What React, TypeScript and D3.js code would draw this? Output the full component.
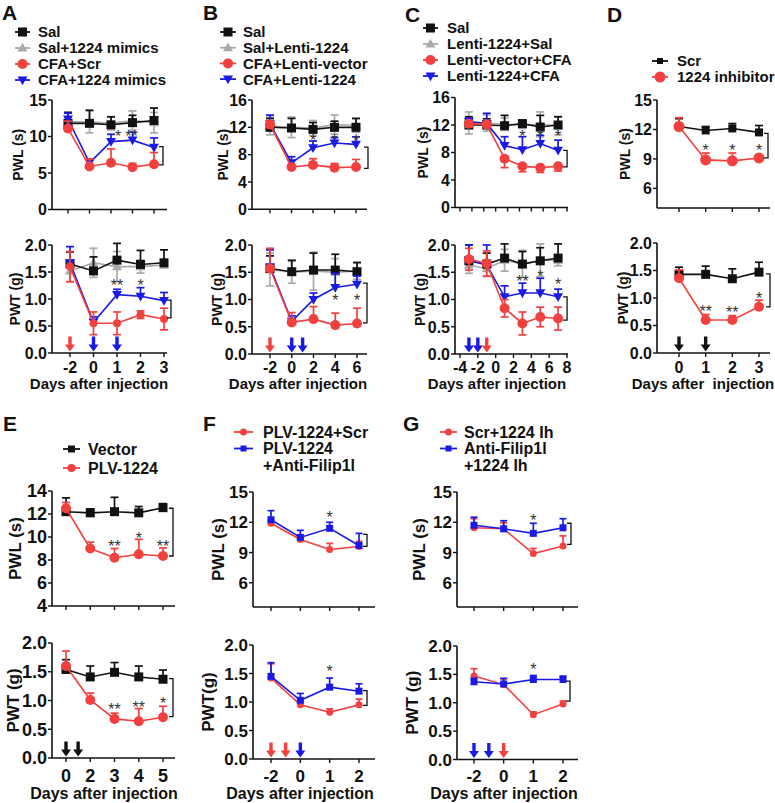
import React from 'react';
import * as d3 from 'd3';

const RED = '#f2403f';
const BLUE = '#1a1ae6';
const GRAY = '#a9a9a9';
const BLACK = '#111111';
const STAR = '#333333';
const FONT = "'Liberation Sans', Arial, Helvetica, sans-serif";

// ---------- Panel A ----------
const A_DAYS = [-2, 0, 1, 2, 3];
const A_PWL_SAL = [11.8, 11.8, 11.6, 11.9, 12.2];
const A_PWL_SAL_E = [1.5, 1.8, 1.1, 1.0, 1.7];
const A_PWL_MIM = [12.0, 12.0, 11.8, 12.2, 11.9];
const A_PWL_MIM_E = [1.3, 1.5, 0.9, 1.3, 1.4];
const A_PWL_SCR = [11.1, 5.9, 6.4, 5.8, 6.2];
const A_PWL_SCR_E = [1.0, 1.0, 1.9, 0.5, 1.6];
const A_PWL_CM = [12.4, 6.4, 9.3, 9.5, 8.5];
const A_PWL_CM_E = [0.8, 0.5, 1.0, 1.1, 1.3];
const A_PWT_SAL = [1.65, 1.52, 1.72, 1.64, 1.67];
const A_PWT_SAL_E = [0.22, 0.26, 0.31, 0.26, 0.24];
const A_PWT_MIM = [1.52, 1.67, 1.6, 1.6, 1.63];
const A_PWT_MIM_E = [0.2, 0.27, 0.28, 0.12, 0.05];
const A_PWT_SCR = [1.6, 0.55, 0.55, 0.71, 0.63];
const A_PWT_SCR_E = [0.28, 0.21, 0.21, 0.07, 0.2];
const A_PWT_CM = [1.67, 0.57, 1.08, 1.05, 0.97];
const A_PWT_CM_E = [0.3, 0.1, 0.1, 0.16, 0.15];
const A_LEGEND = ['Sal', 'Sal+1224 mimics', 'CFA+Scr', 'CFA+1224 mimics'];

// ---------- Panel B ----------
const B_DAYS = [-2, 0, 2, 4, 6];
const B_PWL_SAL = [12.0, 11.9, 11.7, 12.0, 12.0];
const B_PWL_SAL_E = [1.3, 1.4, 1.0, 0.9, 1.3];
const B_PWL_L = [12.2, 12.0, 11.9, 12.4, 12.3];
const B_PWL_L_E = [1.3, 1.5, 1.1, 1.4, 1.0];
const B_PWL_VEC = [12.4, 6.2, 6.5, 6.1, 6.2];
const B_PWL_VEC_E = [0.6, 0.3, 0.9, 0.6, 1.1];
const B_PWL_CL = [12.5, 6.8, 9.0, 9.7, 9.5];
const B_PWL_CL_E = [1.3, 0.9, 1.0, 0.8, 1.1];
const B_PWT_SAL = [1.57, 1.51, 1.54, 1.54, 1.51];
const B_PWT_SAL_E = [0.23, 0.21, 0.31, 0.29, 0.17];
const B_PWT_L = [1.55, 1.5, 1.52, 1.5, 1.52];
const B_PWT_L_E = [0.3, 0.2, 0.35, 0.25, 0.15];
const B_PWT_VEC = [1.57, 0.58, 0.64, 0.53, 0.56];
const B_PWT_VEC_E = [0.37, 0.18, 0.23, 0.22, 0.28];
const B_PWT_CL = [1.6, 0.6, 1.0, 1.22, 1.28];
const B_PWT_CL_E = [0.31, 0.1, 0.12, 0.26, 0.15];
const B_LEGEND = ['Sal', 'Sal+Lenti-1224', 'CFA+Lenti-vector', 'CFA+Lenti-1224'];

// ---------- Panel C ----------
const C_TICKS = [-4, -2, 0, 2, 4, 6, 8];
const C_DAYS = [-3, -1, 1, 3, 5, 7];
const C_PWL_SAL = [12.0, 12.0, 11.9, 12.2, 11.7, 12.0];
const C_PWL_SAL_E = [1.2, 0.9, 1.5, 0.5, 1.7, 1.2];
const C_PWL_LS = [12.3, 12.3, 12.1, 12.0, 12.1, 11.9];
const C_PWL_LS_E = [1.6, 1.2, 0.9, 0.5, 1.8, 1.3];
const C_PWL_VC = [12.2, 12.1, 7.1, 6.0, 5.8, 6.0];
const C_PWL_VC_E = [0.5, 0.5, 1.3, 0.8, 0.7, 0.7];
const C_PWL_LC = [12.5, 12.2, 9.0, 8.4, 9.3, 8.3];
const C_PWL_LC_E = [0.5, 1.5, 1.3, 1.9, 1.2, 1.5];
const C_PWT_SAL = [1.71, 1.65, 1.76, 1.65, 1.71, 1.76];
const C_PWT_SAL_E = [0.29, 0.2, 0.26, 0.23, 0.24, 0.26];
const C_PWT_LS = [1.63, 1.57, 1.72, 1.65, 1.72, 1.72];
const C_PWT_LS_E = [0.15, 0.15, 0.2, 0.25, 0.3, 0.1];
const C_PWT_VC = [1.74, 1.66, 0.84, 0.56, 0.68, 0.65];
const C_PWT_VC_E = [0.2, 0.23, 0.16, 0.21, 0.18, 0.21];
const C_PWT_LC = [1.72, 1.63, 1.05, 1.12, 1.12, 1.05];
const C_PWT_LC_E = [0.28, 0.37, 0.2, 0.18, 0.27, 0.14];
const C_LEGEND = ['Sal', 'Lenti-1224+Sal', 'Lenti-vector+CFA', 'Lenti-1224+CFA'];

// ---------- Panel D ----------
const D_DAYS = [0, 1, 2, 3];
const D_PWL_SCR = [12.3, 11.9, 12.1, 11.7];
const D_PWL_SCR_E = [0.8, 0.4, 0.5, 0.7];
const D_PWL_INH = [12.3, 8.9, 8.8, 9.1];
const D_PWL_INH_E = [0.9, 0.7, 0.8, 0.3];
const D_PWT_SCR = [1.43, 1.43, 1.35, 1.47];
const D_PWT_SCR_E = [0.13, 0.15, 0.18, 0.18];
const D_PWT_INH = [1.36, 0.6, 0.6, 0.84];
const D_PWT_INH_E = [0.15, 0.1, 0.08, 0.12];
const D_LEGEND = ['Scr', '1224 inhibitor'];

// ---------- Panel E ----------
const E_DAYS = [0, 2, 3, 4, 5];
const E_PWL_VEC = [12.2, 12.1, 12.2, 12.1, 12.55];
const E_PWL_VEC_E = [1.2, 0.35, 1.25, 0.55, 0.35];
const E_PWL_PLV = [12.5, 9.0, 8.2, 8.5, 8.35];
const E_PWL_PLV_E = [0.5, 0.55, 0.8, 1.3, 0.7];
const E_PWT_VEC = [1.54, 1.41, 1.49, 1.41, 1.37];
const E_PWT_VEC_E = [0.17, 0.19, 0.17, 0.19, 0.16];
const E_PWT_PLV = [1.6, 1.01, 0.68, 0.64, 0.71];
const E_PWT_PLV_E = [0.26, 0.12, 0.1, 0.22, 0.19];
const E_LEGEND = ['Vector', 'PLV-1224'];

// ---------- Panel F ----------
const F_DAYS = [-2, 0, 1, 2];
const F_PWL_SCR = [11.9, 10.3, 9.3, 9.6];
const F_PWL_SCR_E = [0.3, 0.3, 0.6, 0.5];
const F_PWL_ANTI = [12.25, 10.5, 11.4, 9.7];
const F_PWL_ANTI_E = [0.9, 0.7, 0.6, 1.2];
const F_PWT_SCR = [1.42, 0.95, 0.82, 0.95];
const F_PWT_SCR_E = [0.25, 0.05, 0.06, 0.1];
const F_PWT_ANTI = [1.45, 1.03, 1.26, 1.19];
const F_PWT_ANTI_E = [0.24, 0.12, 0.16, 0.13];
const F_LEGEND = [['PLV-1224+Scr'], ['PLV-1224', '+Anti-Filip1l']];

// ---------- Panel G ----------
const G_DAYS = [-2, 0, 1, 2];
const G_PWL_SCR = [11.45, 11.35, 8.9, 9.65];
const G_PWL_SCR_E = [0.9, 0.6, 0.5, 1.0];
const G_PWL_ANTI = [11.7, 11.35, 10.9, 11.45];
const G_PWL_ANTI_E = [0.8, 0.8, 1.0, 0.9];
const G_PWT_SCR = [1.47, 1.32, 0.79, 0.98];
const G_PWT_SCR_E = [0.13, 0.1, 0.05, 0.05];
const G_PWT_ANTI = [1.37, 1.33, 1.41, 1.41];
const G_PWT_ANTI_E = [0.06, 0.1, 0.07, 0.06];
const G_LEGEND = [['Scr+1224 Ih'], ['Anti-Filip1l', '+1224 Ih']];

const PWL_TICKS_15 = [0, 5, 10, 15];
const PWL_TICKS_16 = [0, 4, 8, 12, 16];
const PWL_TICKS_D = [6, 9, 12, 15];
const PWL_TICKS_E = [4, 6, 8, 10, 12, 14];
const PWT_TICKS = [0, 0.5, 1, 1.5, 2];
const X_TITLE = 'Days after injection';
const X_TITLE_D = 'Days after  injection';

type Shape = 'square' | 'triUp' | 'circle' | 'triDown';
type Dir = 'up' | 'down' | 'both';
interface SeriesDef { v: number[]; e: number[]; color: string; shape: Shape; size: number; dir: Dir; }
interface Star { day: number; val: number; text: string; dx?: number; }
interface Arrow { day: number; color: string; }
interface PlotDef {
  left: number; right: number; p0: number; p1: number; ticksX: number[]; days: number[];
  axisTickCount?: number;
  yBottom: number; yTop: number; yDomain: [number, number]; yTicks: number[]; yFmt: (v: number) => string;
  series: SeriesDef[]; stars: Star[]; bracket: [number, number]; bracketDx: number;
  arrows?: Arrow[]; tickFont: number; yLabel: string; yLabelX: number; labelFont: number;
  xLabels?: boolean; xLabelY?: number; xTitle?: string; xTitleX?: number; xTitleY?: number; titleFont?: number;
  capW: number; starFont: number;
}

const fmtInt = (v: number) => String(v);
const fmt1 = d3.format('.1f');

function Marker({ shape, size, color, x, y }: { shape: Shape; size: number; color: string; x: number; y: number }) {
  const h = size / 2;
  if (shape === 'circle') return <circle cx={x} cy={y} r={h} fill={color} />;
  if (shape === 'square') return <rect x={x - h} y={y - h} width={size} height={size} fill={color} />;
  const p = d3.path();
  if (shape === 'triUp') {
    p.moveTo(x, y - h * 1.15); p.lineTo(x + h * 1.1, y + h * 0.8); p.lineTo(x - h * 1.1, y + h * 0.8);
  } else {
    p.moveTo(x, y + h * 1.15); p.lineTo(x + h * 1.1, y - h * 0.8); p.lineTo(x - h * 1.1, y - h * 0.8);
  }
  p.closePath();
  return <path d={p.toString()} fill={color} />;
}

function arrowPath(x: number, tip: number) {
  const L = 15, hh = 7, hw = 10, sw = 3.4;
  const p = d3.path();
  p.moveTo(x - sw / 2, tip - L); p.lineTo(x + sw / 2, tip - L); p.lineTo(x + sw / 2, tip - hh);
  p.lineTo(x + hw / 2, tip - hh); p.lineTo(x, tip); p.lineTo(x - hw / 2, tip - hh);
  p.lineTo(x - sw / 2, tip - hh); p.closePath();
  return p.toString();
}

function Plot({ p }: { p: PlotDef }) {
  const n = p.ticksX.length;
  const x = d3.scaleLinear().domain(p.ticksX).range(p.ticksX.map((_, i) => p.p0 + (i * (p.p1 - p.p0)) / (n - 1)));
  const y = d3.scaleLinear().domain(p.yDomain).range([p.yBottom, p.yTop]);
  const line = d3.line<number>().x((_, i) => x(p.days[i])).y((v) => y(v));
  const tickPx = p.axisTickCount
    ? d3.range(p.axisTickCount).map((i) => p.p0 + (i * (p.p1 - p.p0)) / (p.axisTickCount! - 1))
    : p.ticksX.map((t) => x(t));
  const bx = x(p.days[p.days.length - 1]) + p.bracketDx;
  const yMid = (y(p.yDomain[0]) + y(p.yDomain[1])) / 2;
  return (
    <g fontFamily={FONT}>
      <line x1={p.left} x2={p.left} y1={y(p.yDomain[1])} y2={p.yBottom} stroke={BLACK} strokeWidth={1.6} />
      <line x1={p.left} x2={p.right} y1={p.yBottom} y2={p.yBottom} stroke={BLACK} strokeWidth={1.6} />
      {p.yTicks.map((t) => (
        <g key={'yt' + t}>
          <line x1={p.left - 4} x2={p.left} y1={y(t)} y2={y(t)} stroke={BLACK} strokeWidth={1.4} />
          <text x={p.left - 5} y={y(t)} dy="0.36em" textAnchor="end" fontSize={p.tickFont} fontWeight="bold" fill={BLACK}>
            {p.yFmt(t)}
          </text>
        </g>
      ))}
      {tickPx.map((px, i) => (
        <line key={'xt' + i} x1={px} x2={px} y1={p.yBottom} y2={p.yBottom + 4} stroke={BLACK} strokeWidth={1.4} />
      ))}
      {p.xLabels &&
        p.ticksX.map((t) => (
          <text key={'xl' + t} x={x(t)} y={p.xLabelY} textAnchor="middle" fontSize={p.tickFont} fontWeight="bold" fill={BLACK}>
            {t}
          </text>
        ))}
      {p.xTitle && (
        <text x={p.xTitleX} y={p.xTitleY} textAnchor="middle" fontSize={p.titleFont} fontWeight="bold" fill={BLACK} style={{ whiteSpace: 'pre' }}>
          {p.xTitle}
        </text>
      )}
      <text
        transform={`translate(${p.yLabelX},${yMid}) rotate(-90)`}
        dy="0.35em"
        textAnchor="middle"
        fontSize={p.labelFont}
        fontWeight="bold"
        fill={BLACK}
      >
        {p.yLabel}
      </text>
      {p.series.map((s, si) => (
        <g key={'s' + si}>
          <path d={line(s.v) || ''} fill="none" stroke={s.color} strokeWidth={1.6} />
          {s.v.map((v, i) => {
            const cx = x(p.days[i]);
            const hi = s.dir === 'down' ? v : v + s.e[i];
            const lo = s.dir === 'up' ? v : v - s.e[i];
            return (
              <g key={i}>
                <line x1={cx} x2={cx} y1={y(hi)} y2={y(lo)} stroke={s.color} strokeWidth={1.7} />
                {s.dir !== 'down' && (
                  <line x1={cx - p.capW / 2} x2={cx + p.capW / 2} y1={y(hi)} y2={y(hi)} stroke={s.color} strokeWidth={1.7} />
                )}
                {s.dir !== 'up' && (
                  <line x1={cx - p.capW / 2} x2={cx + p.capW / 2} y1={y(lo)} y2={y(lo)} stroke={s.color} strokeWidth={1.7} />
                )}
              </g>
            );
          })}
          {s.v.map((v, i) => (
            <Marker key={'m' + i} shape={s.shape} size={s.size} color={s.color} x={x(p.days[i])} y={y(v)} />
          ))}
        </g>
      ))}
      {p.stars.map((st, i) => (
        <text key={'st' + i} x={x(st.day) + (st.dx || 0)} y={y(st.val) + p.starFont * 0.55} textAnchor="middle" fontSize={p.starFont} fill={STAR}>
          {st.text}
        </text>
      ))}
      <path
        d={`M${bx - 4},${y(p.bracket[0])}H${bx}V${y(p.bracket[1])}H${bx - 4}`}
        fill="none"
        stroke={BLACK}
        strokeWidth={1.3}
      />
      {(p.arrows || []).map((a, i) => (
        <path key={'ar' + i} d={arrowPath(x(a.day), p.yBottom - 1.5)} fill={a.color} />
      ))}
    </g>
  );
}

interface LegendItem { label: string[]; color: string; shape: Shape; size: number; }
function Legend({ items, x0, x1, tx, y0, step, fs }: { items: LegendItem[]; x0: number; x1: number; tx: number; y0: number; step: number; fs: number }) {
  let row = 0;
  return (
    <g fontFamily={FONT}>
      {items.map((it, i) => {
        const ry = y0 + row * step;
        const startRow = row;
        row += it.label.length;
        return (
          <g key={i}>
            <line x1={x0} x2={x1} y1={ry} y2={ry} stroke={it.color} strokeWidth={1.8} />
            <Marker shape={it.shape} size={it.size} color={it.color} x={(x0 + x1) / 2} y={ry} />
            {it.label.map((l, k) => (
              <text key={k} x={tx} y={y0 + (startRow + k) * step} dy="0.36em" fontSize={fs} fontWeight="bold" fill={BLACK}>
                {l}
              </text>
            ))}
          </g>
        );
      })}
    </g>
  );
}

const ser = (v: number[], e: number[], color: string, shape: Shape, size: number, dir: Dir): SeriesDef => ({ v, e, color, shape, size, dir });

const topRow = { tickFont: 16, labelFont: 14, titleFont: 15, capW: 8, starFont: 16, xLabelY: 373, xTitleY: 389 };
const botRow = { tickFont: 18, labelFont: 17, titleFont: 16, capW: 8, starFont: 16, xLabelY: 782, xTitleY: 799 };
const fgRow = { tickFont: 17, labelFont: 17, titleFont: 16, capW: 7, starFont: 16, xLabelY: 782, xTitleY: 799 };

const PLOTS: PlotDef[] = [
  {
    ...topRow, left: 52, right: 167, p0: 68, p1: 154, ticksX: A_DAYS, days: A_DAYS,
    yBottom: 209.5, yTop: 100, yDomain: [0, 15], yTicks: PWL_TICKS_15, yFmt: fmtInt,
    series: [
      ser(A_PWL_MIM, A_PWL_MIM_E, GRAY, 'triUp', 9, 'both'),
      ser(A_PWL_SAL, A_PWL_SAL_E, BLACK, 'square', 9, 'up'),
      ser(A_PWL_CM, A_PWL_CM_E, BLUE, 'triDown', 9, 'up'),
      ser(A_PWL_SCR, A_PWL_SCR_E, RED, 'circle', 10, 'up'),
    ],
    stars: [{ day: 1, val: 10.5, text: '*', dx: 7 }, { day: 2, val: 10.5, text: '**', dx: -1 }],
    bracket: [8.6, 6.1], bracketDx: 9, yLabel: 'PWL (s)', yLabelX: 18,
  },
  {
    ...topRow, left: 52, right: 167, p0: 70, p1: 164, ticksX: A_DAYS, days: A_DAYS,
    yBottom: 353, yTop: 245, yDomain: [0, 2], yTicks: PWT_TICKS, yFmt: fmt1,
    series: [
      ser(A_PWT_MIM, A_PWT_MIM_E, GRAY, 'triUp', 9, 'both'),
      ser(A_PWT_SAL, A_PWT_SAL_E, BLACK, 'square', 9, 'up'),
      ser(A_PWT_CM, A_PWT_CM_E, BLUE, 'triDown', 9, 'up'),
      ser(A_PWT_SCR, A_PWT_SCR_E, RED, 'circle', 8, 'both'),
    ],
    stars: [{ day: 1, val: 1.32, text: '**' }, { day: 2, val: 1.32, text: '*' }],
    bracket: [0.98, 0.65], bracketDx: 7, yLabel: 'PWT (g)', yLabelX: 15,
    arrows: [{ day: -2, color: RED }, { day: 0, color: BLUE }, { day: 1, color: BLUE }],
    xLabels: true, xTitle: X_TITLE, xTitleX: 99,
  },
  {
    ...topRow, left: 252, right: 367, p0: 270, p1: 356, ticksX: B_DAYS, days: B_DAYS,
    yBottom: 209.3, yTop: 100, yDomain: [0, 16], yTicks: PWL_TICKS_16, yFmt: fmtInt,
    series: [
      ser(B_PWL_L, B_PWL_L_E, GRAY, 'triUp', 9, 'both'),
      ser(B_PWL_SAL, B_PWL_SAL_E, BLACK, 'square', 9, 'up'),
      ser(B_PWL_CL, B_PWL_CL_E, BLUE, 'triDown', 9, 'up'),
      ser(B_PWL_VEC, B_PWL_VEC_E, RED, 'circle', 10, 'up'),
    ],
    stars: [{ day: 2, val: 10.6, text: '*' }, { day: 4, val: 10.6, text: '*' }, { day: 6, val: 10.6, text: '*' }],
    bracket: [9.1, 6.0], bracketDx: 12, yLabel: 'PWL (s)', yLabelX: 223,
  },
  {
    ...topRow, left: 252, right: 367, p0: 270, p1: 357, ticksX: B_DAYS, days: B_DAYS,
    yBottom: 354, yTop: 245, yDomain: [0, 2], yTicks: PWT_TICKS, yFmt: fmt1,
    series: [
      ser(B_PWT_L, B_PWT_L_E, GRAY, 'triUp', 9, 'both'),
      ser(B_PWT_SAL, B_PWT_SAL_E, BLACK, 'square', 9, 'up'),
      ser(B_PWT_CL, B_PWT_CL_E, BLUE, 'triDown', 9, 'up'),
      ser(B_PWT_VEC, B_PWT_VEC_E, RED, 'circle', 10, 'up'),
    ],
    stars: [{ day: 4, val: 1.04, text: '*' }, { day: 6, val: 1.04, text: '*' }],
    bracket: [1.3, 0.57], bracketDx: 10, yLabel: 'PWT (g)', yLabelX: 217,
    arrows: [{ day: -2, color: RED }, { day: 0, color: BLUE }, { day: 1, color: BLUE }],
    xLabels: true, xTitle: X_TITLE, xTitleX: 298,
  },
  {
    ...topRow, left: 455, right: 568, p0: 460, p1: 567, ticksX: C_TICKS, days: C_DAYS, axisTickCount: 10,
    yBottom: 207.5, yTop: 97.5, yDomain: [0, 16], yTicks: PWL_TICKS_16, yFmt: fmtInt,
    series: [
      ser(C_PWL_LS, C_PWL_LS_E, GRAY, 'triUp', 9, 'both'),
      ser(C_PWL_SAL, C_PWL_SAL_E, BLACK, 'square', 9, 'up'),
      ser(C_PWL_LC, C_PWL_LC_E, BLUE, 'triDown', 9, 'up'),
      ser(C_PWL_VC, C_PWL_VC_E, RED, 'circle', 10, 'down'),
    ],
    stars: [{ day: 3, val: 10.8, text: '*' }, { day: 5, val: 10.8, text: '*' }, { day: 7, val: 10.8, text: '*' }],
    bracket: [8.3, 5.9], bracketDx: 9, yLabel: 'PWL (s)', yLabelX: 423,
  },
  {
    ...topRow, left: 455, right: 568, p0: 460, p1: 567, ticksX: C_TICKS, days: C_DAYS,
    yBottom: 354, yTop: 245, yDomain: [0, 2], yTicks: PWT_TICKS, yFmt: fmt1,
    series: [
      ser(C_PWT_LS, C_PWT_LS_E, GRAY, 'triUp', 9, 'both'),
      ser(C_PWT_SAL, C_PWT_SAL_E, BLACK, 'square', 9, 'up'),
      ser(C_PWT_LC, C_PWT_LC_E, BLUE, 'triDown', 9, 'up'),
      ser(C_PWT_VC, C_PWT_VC_E, RED, 'circle', 10, 'both'),
    ],
    stars: [{ day: 3, val: 1.39, text: '**' }, { day: 5, val: 1.49, text: '*' }, { day: 7, val: 1.34, text: '*' }],
    bracket: [1.05, 0.62], bracketDx: 9, yLabel: 'PWT (g)', yLabelX: 420,
    arrows: [{ day: -3, color: BLUE }, { day: -2, color: BLUE }, { day: -1, color: RED }],
    xLabels: true, xTitle: X_TITLE, xTitleX: 497,
  },
  {
    ...topRow, left: 657, right: 770, p0: 679, p1: 759, ticksX: D_DAYS, days: D_DAYS,
    yBottom: 208, yTop: 100, yDomain: [4, 15], yTicks: PWL_TICKS_D, yFmt: fmtInt,
    series: [
      ser(D_PWL_SCR, D_PWL_SCR_E, BLACK, 'square', 8, 'up'),
      ser(D_PWL_INH, D_PWL_INH_E, RED, 'circle', 11, 'up'),
    ],
    stars: [{ day: 1, val: 10.2, text: '*' }, { day: 2, val: 10.2, text: '*' }, { day: 3, val: 10.2, text: '*' }],
    bracket: [11.6, 9.1], bracketDx: 9, yLabel: 'PWL (s)', yLabelX: 625,
  },
  {
    ...topRow, left: 657, right: 770, p0: 679, p1: 759, ticksX: D_DAYS, days: D_DAYS,
    yBottom: 353, yTop: 243, yDomain: [0, 2], yTicks: PWT_TICKS, yFmt: fmt1,
    series: [
      ser(D_PWT_SCR, D_PWT_SCR_E, BLACK, 'square', 9, 'up'),
      ser(D_PWT_INH, D_PWT_INH_E, RED, 'circle', 10, 'up'),
    ],
    stars: [{ day: 1, val: 0.82, text: '**' }, { day: 2, val: 0.8, text: '**' }, { day: 3, val: 1.06, text: '*' }],
    bracket: [1.44, 0.84], bracketDx: 11, yLabel: 'PWT (g)', yLabelX: 623,
    arrows: [{ day: 0, color: BLACK }, { day: 1, color: BLACK }],
    xLabels: true, xTitle: X_TITLE_D, xTitleX: 703,
  },
  {
    ...botRow, left: 52, right: 175, p0: 66, p1: 163, ticksX: E_DAYS, days: E_DAYS,
    yBottom: 606, yTop: 491, yDomain: [4, 14], yTicks: PWL_TICKS_E, yFmt: fmtInt,
    series: [
      ser(E_PWL_VEC, E_PWL_VEC_E, BLACK, 'square', 9, 'up'),
      ser(E_PWL_PLV, E_PWL_PLV_E, RED, 'circle', 10, 'up'),
    ],
    stars: [{ day: 3, val: 9.45, text: '**' }, { day: 4, val: 10.2, text: '*' }, { day: 5, val: 9.45, text: '**' }],
    bracket: [12.5, 8.35], bracketDx: 10, yLabel: 'PWL (s)', yLabelX: 15,
  },
  {
    ...botRow, left: 52, right: 175, p0: 66, p1: 163, ticksX: E_DAYS, days: E_DAYS,
    yBottom: 758, yTop: 643, yDomain: [0, 2], yTicks: PWT_TICKS, yFmt: fmt1,
    series: [
      ser(E_PWT_VEC, E_PWT_VEC_E, BLACK, 'square', 9, 'up'),
      ser(E_PWT_PLV, E_PWT_PLV_E, RED, 'circle', 10, 'up'),
    ],
    stars: [{ day: 3, val: 0.9, text: '**' }, { day: 4, val: 0.94, text: '**' }, { day: 5, val: 1.01, text: '*' }],
    bracket: [1.38, 0.72], bracketDx: 10, yLabel: 'PWT (g)', yLabelX: 13,
    arrows: [{ day: 0, color: BLACK }, { day: 1, color: BLACK }],
    xLabels: true, xTitle: X_TITLE, xTitleX: 104,
  },
  {
    ...fgRow, left: 253, right: 375, p0: 271, p1: 359, ticksX: F_DAYS, days: F_DAYS,
    yBottom: 607, yTop: 492, yDomain: [3.6, 15], yTicks: PWL_TICKS_D, yFmt: fmtInt,
    series: [
      ser(F_PWL_SCR, F_PWL_SCR_E, RED, 'circle', 7, 'up'),
      ser(F_PWL_ANTI, F_PWL_ANTI_E, BLUE, 'square', 7, 'up'),
    ],
    stars: [{ day: 1, val: 12.8, text: '*' }],
    bracket: [10.8, 9.6], bracketDx: 8, yLabel: 'PWL (s)', yLabelX: 218,
  },
  {
    ...fgRow, left: 253, right: 375, p0: 271, p1: 359, ticksX: F_DAYS, days: F_DAYS,
    yBottom: 759, yTop: 645, yDomain: [0, 2], yTicks: PWT_TICKS, yFmt: fmt1,
    series: [
      ser(F_PWT_SCR, F_PWT_SCR_E, RED, 'circle', 7, 'up'),
      ser(F_PWT_ANTI, F_PWT_ANTI_E, BLUE, 'square', 7, 'up'),
    ],
    stars: [{ day: 1, val: 1.59, text: '*' }],
    bracket: [1.2, 0.94], bracketDx: 8, yLabel: 'PWT(g)', yLabelX: 208,
    arrows: [{ day: -2, color: RED }, { day: -1, color: RED }, { day: 0, color: BLUE }],
    xLabels: true, xTitle: X_TITLE, xTitleX: 300,
  },
  {
    ...fgRow, left: 457, right: 578, p0: 474, p1: 563, ticksX: G_DAYS, days: G_DAYS,
    yBottom: 607, yTop: 492, yDomain: [3.6, 15], yTicks: PWL_TICKS_D, yFmt: fmtInt,
    series: [
      ser(G_PWL_SCR, G_PWL_SCR_E, RED, 'circle', 7, 'up'),
      ser(G_PWL_ANTI, G_PWL_ANTI_E, BLUE, 'square', 7, 'up'),
    ],
    stars: [{ day: 1, val: 12.5, text: '*' }],
    bracket: [11.9, 9.8], bracketDx: 8, yLabel: 'PWL (s)', yLabelX: 419,
  },
  {
    ...fgRow, left: 457, right: 578, p0: 474, p1: 563, ticksX: G_DAYS, days: G_DAYS,
    yBottom: 759.5, yTop: 646, yDomain: [0, 2], yTicks: PWT_TICKS, yFmt: fmt1,
    series: [
      ser(G_PWT_SCR, G_PWT_SCR_E, RED, 'circle', 7, 'up'),
      ser(G_PWT_ANTI, G_PWT_ANTI_E, BLUE, 'square', 7, 'up'),
    ],
    stars: [{ day: 1, val: 1.65, text: '*' }],
    bracket: [1.38, 1.03], bracketDx: 7, yLabel: 'PWT (g)', yLabelX: 412,
    arrows: [{ day: -2, color: BLUE }, { day: -1, color: BLUE }, { day: 0, color: RED }],
    xLabels: true, xTitle: X_TITLE, xTitleX: 504,
  },
];

const fourItems = (labels: string[]): LegendItem[] => [
  { label: [labels[0]], color: BLACK, shape: 'square', size: 9 },
  { label: [labels[1]], color: GRAY, shape: 'triUp', size: 9 },
  { label: [labels[2]], color: RED, shape: 'circle', size: 10 },
  { label: [labels[3]], color: BLUE, shape: 'triDown', size: 9 },
];

const PANEL_LETTERS = [
  { t: 'A', x: 2, y: 20 }, { t: 'B', x: 203, y: 20 }, { t: 'C', x: 405, y: 22 }, { t: 'D', x: 607, y: 22 },
  { t: 'E', x: 3, y: 431 }, { t: 'F', x: 203, y: 431 }, { t: 'G', x: 403, y: 431 },
];

export default function App() {
  return (
    <svg width={775} height={803} style={{ position: 'absolute', left: 0, top: 0, background: '#fff' }}>
      <rect width={775} height={803} fill="#fff" />
      {PANEL_LETTERS.map((l) => (
        <text key={l.t} x={l.x} y={l.y} fontFamily={FONT} fontSize={21} fontWeight="bold" fill={BLACK}>{l.t}</text>
      ))}
      <Legend items={fourItems(A_LEGEND)} x0={15} x1={30} tx={38} y0={32} step={16} fs={15} />
      <Legend items={fourItems(B_LEGEND)} x0={220} x1={236} tx={243} y0={32} step={15.7} fs={15} />
      <Legend items={fourItems(C_LEGEND)} x0={423} x1={438} tx={447} y0={28} step={16} fs={15} />
      <Legend
        items={[
          { label: [D_LEGEND[0]], color: BLACK, shape: 'square', size: 6 },
          { label: [D_LEGEND[1]], color: RED, shape: 'circle', size: 11 },
        ]}
        x0={652} x1={668} tx={677} y0={61} step={16} fs={15}
      />
      <Legend
        items={[
          { label: [E_LEGEND[0]], color: BLACK, shape: 'square', size: 7 },
          { label: [E_LEGEND[1]], color: RED, shape: 'circle', size: 8 },
        ]}
        x0={63} x1={80} tx={88} y0={449} step={19} fs={16}
      />
      <Legend
        items={[
          { label: F_LEGEND[0], color: RED, shape: 'circle', size: 7 },
          { label: F_LEGEND[1], color: BLUE, shape: 'square', size: 6 },
        ]}
        x0={234} x1={253} tx={263} y0={432} step={16.5} fs={16}
      />
      <Legend
        items={[
          { label: G_LEGEND[0], color: RED, shape: 'circle', size: 7 },
          { label: G_LEGEND[1], color: BLUE, shape: 'square', size: 6 },
        ]}
        x0={440} x1={457} tx={464} y0={432} step={16.5} fs={16}
      />
      {PLOTS.map((p, i) => (
        <Plot key={i} p={p} />
      ))}
    </svg>
  );
}
